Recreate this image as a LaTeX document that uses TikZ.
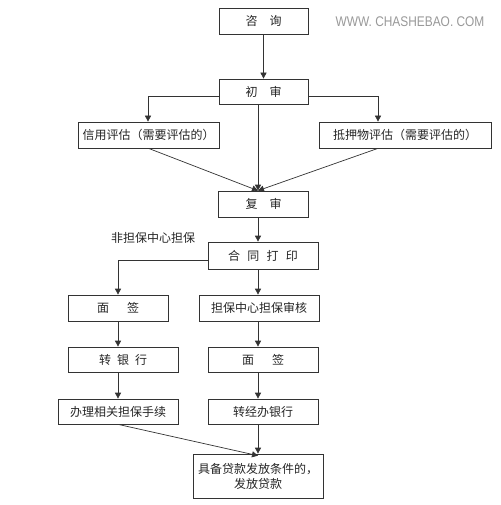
\documentclass[tikz,border=0pt]{standalone}
\usepackage{fontspec}
\setmainfont{Noto Sans CJK SC}
\newfontfamily\wmfont{Liberation Sans}
\usetikzlibrary{arrows.meta}
\begin{document}
\begin{tikzpicture}[x=1pt,y=-1pt,
  box/.style={draw=black!80, line width=0.7pt, inner sep=0pt, font=\fontsize{12}{15}\selectfont, text=black!85, align=center},
  conn/.style={draw=black!80, line width=0.7pt},
  arr/.style={conn, -{Triangle[length=6pt,width=6pt]}}]
\useasboundingbox (0,0) rectangle (500,505);
\fill[white] (0,0) rectangle (500,505);
% nodes
\node[box, minimum width=89, minimum height=26] (zx) at (263.5,21) {咨\hspace{1em}询};
\node[text=black!40, inner sep=0pt, font=\wmfont\fontsize{14}{15}\selectfont] (wm) at (410,22) {\scalebox{0.85}[1]{WWW. CHASHEBAO. COM}};
\node[box, minimum width=89, minimum height=25] (cs) at (263.5,91.5) {初\hspace{1em}审};
\node[box, minimum width=141, minimum height=26] (xy) at (148.5,135) {信用评估（需要评估的）};
\node[box, minimum width=172, minimum height=26] (dy) at (405,135) {抵押物评估（需要评估的）};
\node[box, minimum width=90, minimum height=26] (fs) at (263.5,204) {复\hspace{1em}审};
\node[box, minimum width=110, minimum height=27] (ht) at (263,255.5) {合\hspace{0.6em}同\hspace{0.6em}打\hspace{0.6em}印};
\node[font=\fontsize{12}{15}\selectfont, text=black!85] (lbl) at (153,238) {非担保中心担保};
\node[box, minimum width=100, minimum height=26] (ml) at (118,308) {面\hspace{1.5em}签};
\node[box, minimum width=120, minimum height=26] (db) at (259,308) {担保中心担保审核};
\node[box, minimum width=110, minimum height=25] (zy) at (123,359.5) {转\hspace{0.5em}银\hspace{0.5em}行};
\node[box, minimum width=110, minimum height=25] (mr) at (263,359.5) {面\hspace{1.5em}签};
\node[box, minimum width=120, minimum height=25] (bl) at (118,411.5) {办理相关担保手续};
\node[box, minimum width=110, minimum height=25] (zj) at (263,411.5) {转经办银行};
\node[box, minimum width=130, minimum height=44] (jb) at (258,476) {具备贷款发放条件的，\\发放贷款};
% connectors
\coordinate (fsin) at ([xshift=-5.5]fs.north);
\draw[arr] (zx.south) -- (cs.north);
\draw[arr] ([yshift=-4.5]cs.west) -| ([xshift=-0.5]xy.north);
\draw[arr] ([yshift=-4.5]cs.east) -| ([xshift=-27]dy.north);
\draw[arr] ([xshift=-5.5]cs.south) -- (fsin);
\draw[arr] (xy.south) -- (fsin);
\draw[arr] ([xshift=-27]dy.south) -- (fsin);
\draw[arr] (fsin |- fs.south) -- (fsin |- ht.north);
\draw[arr] ([yshift=-4.5]ht.west) -| (ml.north);
\draw[arr] (fsin |- ht.south) -- (fsin |- db.north);
\draw[arr] (ml.south) -- (ml.south |- zy.north);
\draw[arr] (ml.south |- zy.south) -- (ml.south |- bl.north);
\draw[arr] (fsin |- db.south) -- (fsin |- mr.north);
\draw[arr] (fsin |- mr.south) -- (fsin |- zj.north);
\draw[arr] (fsin |- zj.south) -- (fsin |- jb.north);
\draw[arr] (bl.south) -- ([yshift=-2]fsin |- jb.north);
\end{tikzpicture}
\end{document}
